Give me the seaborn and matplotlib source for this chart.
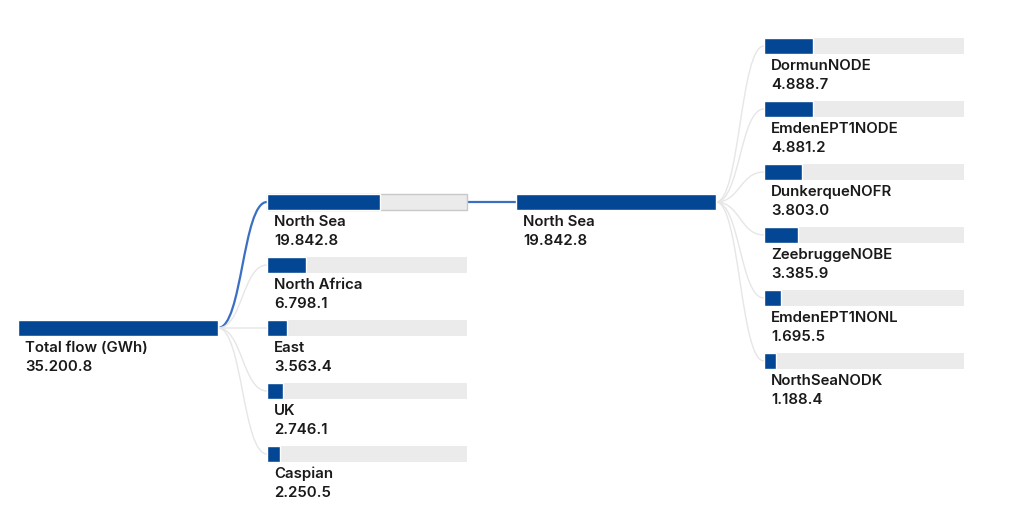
import numpy as np
import pandas as pd
import matplotlib
matplotlib.use("Agg")
import matplotlib.pyplot as plt
import seaborn as sns
from matplotlib.path import Path
from matplotlib.patches import PathPatch

# data
total_label = "Total flow (GWh)"
total_value = 35200.8

regions = ["North Sea", "North Africa", "East", "UK", "Caspian"]
region_values = [19842.8, 6798.1, 3563.4, 2746.1, 2250.5]

sub_label = "North Sea"
sub_value = 19842.8

nodes = ["DormunNODE", "EmdenEPT1NODE", "DunkerqueNOFR", "ZeebruggeNOBE",
         "EmdenEPT1NONL", "NorthSeaNODK"]
node_values = [4888.7, 4881.2, 3803.0, 3385.9, 1695.5, 1188.4]

sns.set_theme(style="white")
plt.rcParams['font.family'] = ['Inter', 'DejaVu Sans']

BLUE = "#034694"
TRACK = "#ebebeb"
LINK = "#e6e6e6"
HILITE = "#3a6fc4"
BAR_W = 200
BAR_H = 16
STEP = 63


def fmt(v):
    return f"{v:,.1f}".replace(",", ".")


fig = plt.figure(figsize=(10.24, 5.22), dpi=100)
ax = fig.add_axes([0, 0, 1, 1])
ax.set_xlim(0, 1024)
ax.set_ylim(522, 0)
ax.axis("off")


def node(x, y, value, parent, label, selected=False):
    ax.barh(y, BAR_W, left=x, height=BAR_H, color=TRACK,
            edgecolor="#c8c8c8" if selected else "none", lw=1, zorder=2)
    ax.barh(y, BAR_W * value / parent, left=x, height=BAR_H, color=BLUE, zorder=3)
    ax.text(x + 7, y + BAR_H / 2 + 12, label, fontsize=10.8, color="#1a1a1a",
            va="center", ha="left", fontweight="semibold")
    ax.text(x + 7, y + BAR_H / 2 + 31, fmt(value), fontsize=10.8, color="#1a1a1a",
            va="center", ha="left", fontweight="semibold")


def link(x0, y0, x1, y1, color, lw, z):
    mx = (x0 + x1) / 2
    p = Path([(x0, y0), (mx, y0), (mx, y1), (x1, y1)],
             [Path.MOVETO, Path.CURVE4, Path.CURVE4, Path.CURVE4])
    ax.add_patch(PathPatch(p, fc="none", ec=color, lw=lw, zorder=z))


# column 1
x1, y1 = 18, 328
node(x1, y1, total_value, total_value, total_label)

# column 2
x2, top2 = 267, 202
for i, (r, v) in enumerate(zip(regions, region_values)):
    yy = top2 + i * STEP
    sel = i == 0
    link(x1 + BAR_W, y1, x2, yy, HILITE if sel else LINK, 1.6 if sel else 1.0, 1)
    node(x2, yy, v, total_value, r, selected=sel)

# column 3
x3, y3 = 516, 202
link(x2 + BAR_W, top2, x3, y3, HILITE, 1.6, 1)
node(x3, y3, sub_value, sub_value, sub_label)

# column 4
x4, top4 = 764, 46
for i, (n, v) in enumerate(zip(nodes, node_values)):
    yy = top4 + i * STEP
    link(x3 + BAR_W, y3, x4, yy, LINK, 1.0, 1)
    node(x4, yy, v, sub_value, n)

fig.savefig("out.png", dpi=100, facecolor="white")
